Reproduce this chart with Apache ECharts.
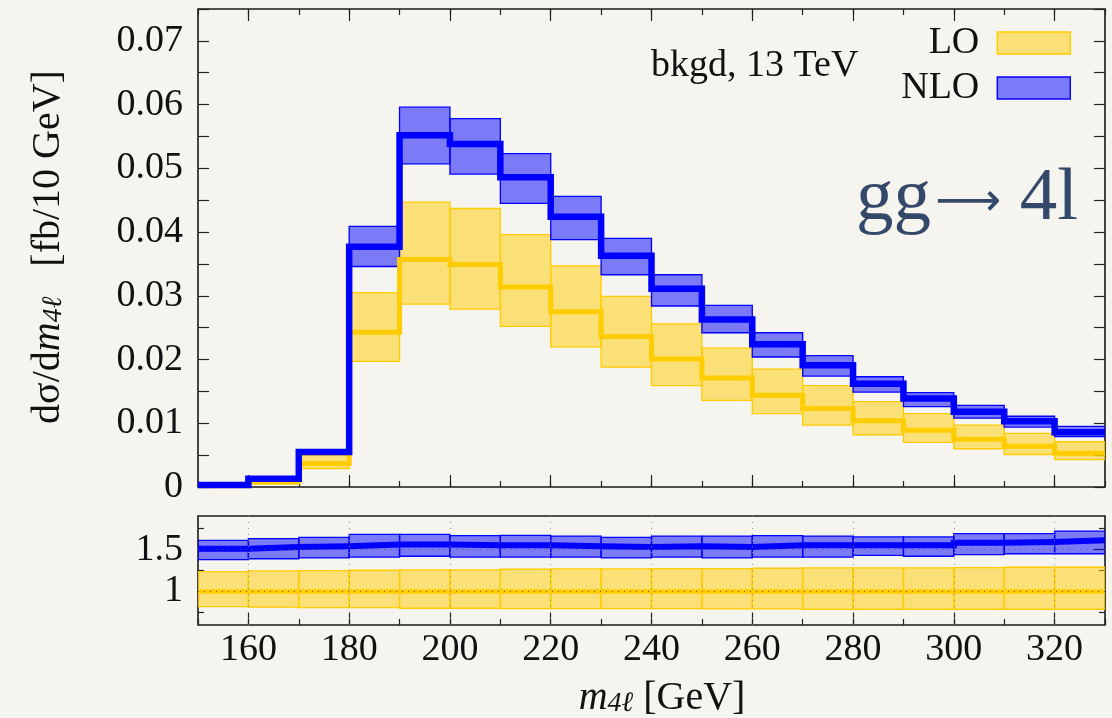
<!DOCTYPE html>
<html>
<head>
<meta charset="utf-8">
<title>gg → 4l, m4l distribution</title>
<script src="https://cdn.jsdelivr.net/npm/echarts@6/dist/echarts.min.js"></script>
<style>
  html, body { margin: 0; padding: 0; background: #f6f4ef; }
  #chart { width: 1112px; height: 718px; }
</style>
</head>
<body>
<div id="chart"></div>
<script>
// Bin edges of the four-lepton invariant mass histogram [GeV]
const binEdges = [150, 160, 170, 180, 190, 200, 210, 220, 230, 240, 250, 260, 270, 280, 290, 300, 310, 320, 330];
const xTickLabels = [160, 180, 200, 220, 240, 260, 280, 300, 320];
const yTickLabels = [0, 0.01, 0.02, 0.03, 0.04, 0.05, 0.06, 0.07];
const ratioTickLabels = [1, 1.5];

// dσ/dm4l [fb/10 GeV], LO: central value and scale-variation band
const loCentral = [0.0002, 0.0008, 0.0037, 0.0243, 0.0357, 0.0349, 0.0314, 0.0275, 0.0236, 0.0201, 0.0171, 0.0144, 0.0123, 0.0104, 0.0089, 0.0075, 0.0064, 0.0053];
const loUp      = [0.0002, 0.0012, 0.0050, 0.0305, 0.0447, 0.0437, 0.0396, 0.0347, 0.0299, 0.0256, 0.0218, 0.0185, 0.0159, 0.0134, 0.0115, 0.0097, 0.0084, 0.0071];
const loDown    = [0.0001, 0.0005, 0.0029, 0.0197, 0.0287, 0.0279, 0.0252, 0.0220, 0.0188, 0.0159, 0.0136, 0.0115, 0.0097, 0.0082, 0.0070, 0.0060, 0.0051, 0.0043];

// dσ/dm4l [fb/10 GeV], NLO: central value and scale-variation band
const nloCentral = [0.0003, 0.0013, 0.0055, 0.0377, 0.0552, 0.0538, 0.0486, 0.0424, 0.0363, 0.0311, 0.0263, 0.0224, 0.0191, 0.0162, 0.0139, 0.0118, 0.0103, 0.0086];
const nloUp      = [0.0004, 0.0015, 0.0058, 0.0409, 0.0596, 0.0578, 0.0523, 0.0456, 0.0390, 0.0333, 0.0285, 0.0242, 0.0206, 0.0173, 0.0148, 0.0128, 0.0111, 0.0095];
const nloDown    = [0.0002, 0.0012, 0.0052, 0.0346, 0.0507, 0.0491, 0.0445, 0.0388, 0.0333, 0.0284, 0.0242, 0.0204, 0.0174, 0.0149, 0.0126, 0.0108, 0.0094, 0.0079];

// Ratio to LO central value
const loRatioCentral = [1, 1, 1, 1, 1, 1, 1, 1, 1, 1, 1, 1, 1, 1, 1, 1, 1, 1];
const loRatioUp      = [1.237, 1.245, 1.249, 1.253, 1.257, 1.257, 1.265, 1.269, 1.269, 1.273, 1.273, 1.277, 1.281, 1.281, 1.281, 1.285, 1.289, 1.289];
const loRatioDown    = [0.820, 0.812, 0.808, 0.808, 0.800, 0.800, 0.796, 0.796, 0.796, 0.796, 0.792, 0.792, 0.788, 0.788, 0.788, 0.788, 0.788, 0.788];
const nloRatioCentral = [1.51, 1.53, 1.54, 1.56, 1.56, 1.55, 1.55, 1.54, 1.53, 1.54, 1.53, 1.55, 1.55, 1.55, 1.55, 1.58, 1.59, 1.61];
const nloRatioUp      = [1.61, 1.63, 1.645, 1.68, 1.68, 1.665, 1.67, 1.66, 1.645, 1.66, 1.66, 1.665, 1.66, 1.65, 1.65, 1.69, 1.69, 1.72];
const nloRatioDown    = [1.38, 1.39, 1.40, 1.41, 1.42, 1.41, 1.41, 1.41, 1.40, 1.41, 1.40, 1.41, 1.41, 1.43, 1.42, 1.44, 1.45, 1.45];

const SERIF = "'Liberation Serif', 'DejaVu Serif', serif";
const INK = '#111';
const YELLOW = '#ffcc00';
const BLUE = '#0000ff';
const LO_FILL = 'rgba(255, 204, 0, 0.5)';
const NLO_FILL = 'rgba(0, 0, 255, 0.5)';
const TITLE_INK = '#34496a';

// [x0, x1, low, high] rows for each bin
function bandRows(down, up) {
  return down.map((d, i) => [binEdges[i], binEdges[i + 1], d, up[i]]);
}
// Histogram outline: left edge of every bin, plus the last right edge
function stepPoints(vals) {
  return binEdges.map((x, i) => [x, vals[Math.min(i, vals.length - 1)]]);
}

function bandSeries(name, xIdx, yIdx, down, up, fill, stroke) {
  return {
    name: name,
    type: 'custom',
    xAxisIndex: xIdx,
    yAxisIndex: yIdx,
    clip: true,
    silent: true,
    z: 2,
    itemStyle: { color: fill, borderColor: stroke, borderWidth: 1.4 },
    encode: { x: [0, 1], y: [2, 3] },
    data: bandRows(down, up),
    renderItem: function (params, api) {
      const tl = api.coord([api.value(0), api.value(3)]);
      const br = api.coord([api.value(1), api.value(2)]);
      return {
        type: 'rect',
        shape: { x: tl[0], y: tl[1], width: br[0] - tl[0], height: br[1] - tl[1] },
        style: { fill: fill, stroke: stroke, lineWidth: 1.3, opacity: 1 }
      };
    }
  };
}

function stepSeries(name, xIdx, yIdx, vals, color, width, z) {
  return {
    name: name,
    type: 'line',
    xAxisIndex: xIdx,
    yAxisIndex: yIdx,
    step: 'end',
    showSymbol: false,
    symbol: 'none',
    silent: true,
    clip: true,
    z: z,
    lineStyle: { color: color, width: width, cap: 'butt', join: 'miter' },
    data: stepPoints(vals)
  };
}

const tickLine = { color: '#222', width: 1.2 };

function xAx(grid, pos, opts) {
  return Object.assign({
    type: 'value', gridIndex: grid, position: pos, min: 150, max: 330, interval: 10,
    axisLine: { show: false }, splitLine: { show: false },
    axisLabel: { show: false },
    axisTick: { show: true, inside: true, length: 6, lineStyle: tickLine }
  }, opts);
}
function yAx(grid, pos, min, max, opts) {
  return Object.assign({
    type: 'value', gridIndex: grid, position: pos, min: min, max: max,
    axisLine: { show: false }, splitLine: { show: false },
    axisLabel: { show: false },
    axisTick: { show: true, inside: true, length: 11, lineStyle: tickLine }
  }, opts);
}

const labelStyle = { fontFamily: SERIF, fontSize: 38, color: INK };

const chart = echarts.init(document.getElementById('chart'), null, { renderer: 'canvas' });

const option = {
  animation: false,
  backgroundColor: '#f6f4ef',
  grid: [
    { left: 198, top: 9, width: 907, height: 478, show: true, borderColor: '#1a1a1a', borderWidth: 1.6, backgroundColor: 'transparent', containLabel: false, outerBoundsMode: 'none' },
    { left: 198, top: 516, width: 907, height: 109, show: true, borderColor: '#1a1a1a', borderWidth: 1.6, backgroundColor: 'transparent', containLabel: false, outerBoundsMode: 'none' }
  ],
  xAxis: [
    xAx(0, 'bottom', {}),
    xAx(0, 'bottom', { axisTick: { show: true, inside: true, length: 12, lineStyle: tickLine, customValues: xTickLabels } }),
    xAx(0, 'top', {}),
    xAx(0, 'top', { axisTick: { show: true, inside: true, length: 12, lineStyle: tickLine, customValues: xTickLabels } }),
    xAx(1, 'bottom', {}),
    xAx(1, 'bottom', {
      axisTick: { show: true, inside: true, length: 12, lineStyle: tickLine, customValues: xTickLabels },
      axisLabel: Object.assign({ show: true, margin: 6, customValues: xTickLabels, formatter: v => String(v) }, labelStyle)
    })
  ],
  yAxis: [
    yAx(0, 'left', 0, 0.075, {
      interval: 0.005,
      axisLabel: Object.assign({
        show: true, margin: 15,
        customValues: yTickLabels,
        formatter: v => (Math.abs(v) < 1e-9 ? '0' : v.toFixed(2))
      }, labelStyle)
    }),
    yAx(0, 'right', 0, 0.075, { interval: 0.005 }),
    yAx(1, 'left', 0.6, 1.9, {
      axisTick: { show: true, inside: true, length: 6, lineStyle: tickLine, customValues: [0.75, 1.25, 1.75] }
    }),
    yAx(1, 'left', 0.6, 1.9, {
      axisTick: { show: true, inside: true, length: 11, lineStyle: tickLine, customValues: ratioTickLabels },
      axisLabel: Object.assign({ show: true, margin: 15, customValues: ratioTickLabels, formatter: v => String(v) }, labelStyle)
    }),
    yAx(1, 'right', 0.6, 1.9, {
      axisTick: { show: true, inside: true, length: 6, lineStyle: tickLine, customValues: [0.75, 1.25, 1.75] }
    }),
    yAx(1, 'right', 0.6, 1.9, {
      axisTick: { show: true, inside: true, length: 11, lineStyle: tickLine, customValues: ratioTickLabels }
    })
  ],
  legend: [
    {
      data: [{ name: 'LO', icon: 'rect', itemStyle: { color: LO_FILL, borderColor: YELLOW, borderWidth: 1.4 } }],
      right: 36, top: 19, orient: 'vertical', align: 'right',
      itemWidth: 73, itemHeight: 22, selectedMode: false,
      textStyle: { fontFamily: SERIF, fontSize: 38, color: INK, padding: [0, 13, 0, 0] }
    },
    {
      data: [{ name: 'NLO', icon: 'rect', itemStyle: { color: NLO_FILL, borderColor: BLUE, borderWidth: 1.4 } }],
      right: 36, top: 64, orient: 'vertical', align: 'right',
      itemWidth: 73, itemHeight: 22, selectedMode: false,
      textStyle: { fontFamily: SERIF, fontSize: 38, color: INK, padding: [0, 13, 0, 0] }
    }
  ],
  series: [
    // main panel
    bandSeries('LO', 0, 0, loDown, loUp, LO_FILL, YELLOW),
    bandSeries('NLO', 0, 0, nloDown, nloUp, NLO_FILL, BLUE),
    stepSeries('LO central', 0, 0, loCentral, YELLOW, 5, 3),
    stepSeries('NLO central', 0, 0, nloCentral, BLUE, 6.5, 4),
    // ratio panel
    bandSeries('LO ratio band', 4, 2, loRatioDown, loRatioUp, LO_FILL, YELLOW),
    bandSeries('NLO ratio band', 4, 2, nloRatioDown, nloRatioUp, NLO_FILL, BLUE),
    stepSeries('LO ratio', 4, 2, loRatioCentral, YELLOW, 4.5, 3),
    Object.assign(stepSeries('NLO ratio', 4, 2, nloRatioCentral, BLUE, 6, 4), {
      markLine: {
        silent: true,
        symbol: ['none', 'none'],
        label: { show: false },
        z: 6,
        lineStyle: { color: '#555', width: 1.1, type: [1, 5], opacity: 0.9 },
        data: ratioTickLabels.map(v => ({ yAxis: v }))
          .concat(xTickLabels.map(v => ({ xAxis: v, lineStyle: { color: '#888', width: 1, type: [1, 5] } })))
      }
    })
  ],
  graphic: [
    {
      type: 'text', left: 651, top: 47, silent: true,
      style: { text: 'bkgd, 13 TeV', font: '38px ' + SERIF, fill: INK }
    },
    {
      type: 'text', x: 856, y: 199, silent: true,
      style: {
        text: '{g|gg}{a|⟶}{g| 4l}',
        align: 'left', verticalAlign: 'middle', fill: TITLE_INK,
        rich: {
          g: { fontFamily: SERIF, fontSize: 75, lineHeight: 84, verticalAlign: 'middle', color: TITLE_INK },
          a: { fontFamily: "'DejaVu Sans', sans-serif", fontSize: 46, lineHeight: 84, verticalAlign: 'middle', color: TITLE_INK, padding: [8, 0, 0, 4] }
        }
      }
    },
    {
      type: 'text', x: 46, y: 247, rotation: Math.PI / 2, silent: true,
      style: {
        text: '{n|dσ/d}{i|m}{s|4ℓ}{n|   [fb/10 GeV]}',
        align: 'center', verticalAlign: 'middle', fill: INK,
        rich: {
          n: { fontFamily: SERIF, fontSize: 40, lineHeight: 44, verticalAlign: 'bottom', color: INK },
          i: { fontFamily: SERIF, fontSize: 40, fontStyle: 'italic', lineHeight: 44, verticalAlign: 'bottom', color: INK },
          s: { fontFamily: SERIF, fontSize: 28, fontStyle: 'italic', lineHeight: 18, verticalAlign: 'bottom', color: INK }
        }
      }
    },
    {
      type: 'text', x: 662, y: 696, silent: true,
      style: {
        text: '{i|m}{s|4ℓ}{n| [GeV]}',
        align: 'center', verticalAlign: 'middle', fill: INK,
        rich: {
          n: { fontFamily: SERIF, fontSize: 40, lineHeight: 44, verticalAlign: 'bottom', color: INK },
          i: { fontFamily: SERIF, fontSize: 40, fontStyle: 'italic', lineHeight: 44, verticalAlign: 'bottom', color: INK },
          s: { fontFamily: SERIF, fontSize: 28, fontStyle: 'italic', lineHeight: 18, verticalAlign: 'bottom', color: INK }
        }
      }
    }
  ]
};

chart.setOption(option);
</script>
</body>
</html>
